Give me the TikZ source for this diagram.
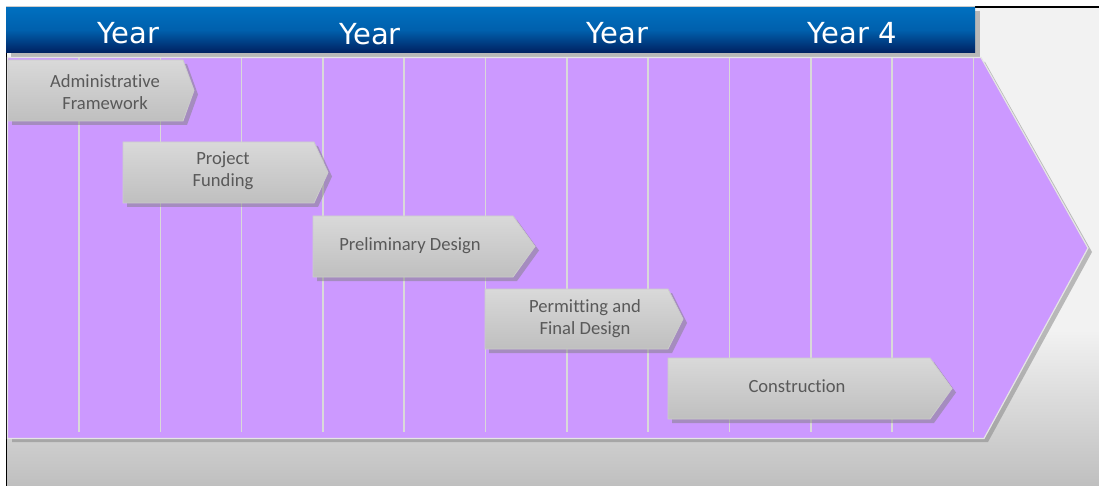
\documentclass[tikz,border=0pt]{standalone}
\usepackage{fontspec}
\newfontfamily\yearfont{DejaVu Sans}
\newfontfamily\taskfont[Ligatures=NoCommon]{Carlito}

\definecolor{headtop}{HTML}{0070C0}
\definecolor{headbot}{HTML}{002060}
\definecolor{lilac}{HTML}{CC99FF}
\definecolor{paleback}{HTML}{F2F2F2}
\definecolor{darkback}{HTML}{BFBFBF}
\definecolor{tasktext}{HTML}{595959}
\definecolor{tasktop}{HTML}{D9D9D9}
\definecolor{taskbot}{HTML}{BFBFBF}

\begin{document}
\begin{tikzpicture}[x=1pt,y=-1pt]

      \useasboundingbox[fill=white] (0,0) rectangle (1099,486);

      % slide background
      \fill[paleback] (6,7) rectangle (1099,486);
      \shade[top color=paleback,bottom color=darkback] (6,330) rectangle (1099,486);
      \draw[black,line width=1.5] (6.5,486) -- (6.5,7) -- (1099,7);

      % header bar
      \fill[gray,opacity=0.5] (11,11) rectangle (980,57);
      \shade[top color=headtop,bottom color=headbot,middle color=headtop!80!headbot] (6,7) rectangle (975,53);
      \draw[gray!40] (6,6) -- (975,6);

      \begin{scope}[every node/.style={text=white,anchor=base,font=\yearfont\fontsize{29}{35}\selectfont}]
        \node (y1) at (128.5,43.3) {Year};
        \node (y2) at (370,45) {Year};
        \node (y3) at (617.5,43.3) {Year};
        \node (y4) at (852.5,43.3) {Year 4};
      \end{scope}

      % big arrow
      \fill[gray,opacity=0.5] (12,62) -- (985,62) -- (1092,252) -- (988,442) -- (12,442) -- cycle;
      \draw[fill=lilac,draw=gray!20,line width=1.2] (7.5,57.5) -- (981,57.5) -- (1088,248) -- (984,438.5) -- (7.5,438.5) -- cycle;

      \foreach \i in {0,...,11}
        \draw[tasktop,line width=1.6] ({79+\i*81.3},58.5) -- ({79+\i*81.3},432);

      % task chevrons
      \begin{scope}[every path/.style={line width=0.8}]
        \foreach \l/\t/\r/\b/\p in {8/60/183/121/194, 123/142/314/203/328, 313/216/513/277/535, 485/289/668/349/683, 668/358/930/419/952} {
          \fill[gray,opacity=0.5] (\l+4,\t+4) -- (\r+4,\t+4) -- (\p+4,{(\t+\b)/2+4}) -- (\r+4,\b+4) -- (\l+4,\b+4) -- cycle;
          \draw[top color=tasktop,bottom color=taskbot,draw=gray!40] (\l,\t) -- (\r,\t) -- (\p,{(\t+\b)/2}) -- (\r,\b) -- (\l,\b) -- cycle;
        }
      \end{scope}

      \begin{scope}[every node/.style={text=tasktext,align=center,font=\taskfont\fontsize{18.6}{22}\selectfont}]
        \node (admin) at (105,92) {Administrative\\Framework};
        \node (fund) at (223,171) {Project\\Funding};
        \node[anchor=base] (prelim) at (410,251) {Preliminary Design};
        \node (permit) at (585,319) {Permitting and\\Final Design};
        \node[anchor=base] (build) at (797,392) {Construction};
      \end{scope}

    \end{tikzpicture}
\end{document}
